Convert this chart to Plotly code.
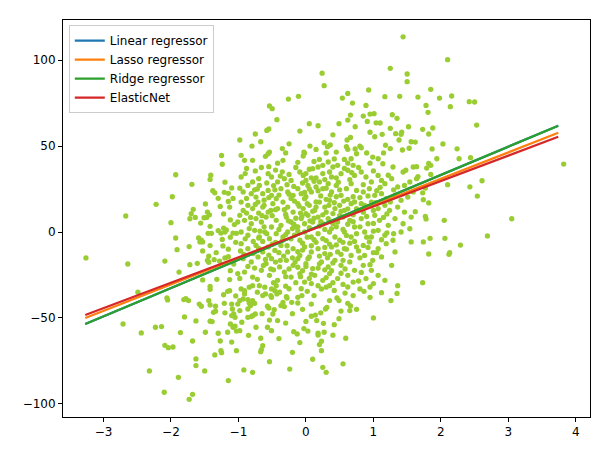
import plotly.graph_objects as go

# ---- scatter data (x, y) ----
pts_upper = [
    (1.44, 113.5), (1.25, 95.2), (1.50, 91.9), (1.50, 87.4), (0.24, 92.4), (0.27, 85.1), (0.93, 82.6),
    (0.62, 80.6), (0.54, 77.9), (0.69, 75.0), (0.89, 73.6), (1.17, 78.7), (1.39, 78.9), (-0.26, 77.3),
    (-0.11, 78.9), (-0.54, 73.3), (-0.50, 71.7), (-0.43, 65.3), (-0.58, 59.1), (-0.55, 59.9), (-0.09, 58.7),
    (0.18, 61.8), (0.49, 63.0), (0.66, 68.0), (0.62, 65.1), (0.73, 61.2), (0.85, 67.4), (0.91, 64.3),
    (0.95, 68.6), (1.01, 68.8), (1.04, 63.5), (1.10, 63.4), (1.28, 68.2), (1.35, 66.1), (1.52, 61.2),
    (1.25, 60.3), (1.33, 57.2), (1.42, 58.1), (1.41, 56.8), (1.13, 56.8), (1.02, 55.4), (1.38, 53.5),
    (1.56, 52.5), (0.66, 55.0), (0.61, 53.5), (-0.98, 53.5), (-0.67, 52.5), (-0.25, 51.3), (0.06, 50.0),
    (0.27, 51.9), (0.32, 49.6), (0.36, 50.6), (0.60, 49.6), (0.62, 48.1), (0.73, 48.3), (0.80, 50.0),
    (0.82, 49.0), (1.43, 47.7), (1.53, 48.7), (-0.54, 46.5), (-0.03, 46.5),
    (2.10, 100.2), (1.85, 83.0), (1.66, 78.5), (1.98, 77.9), (2.16, 79.1), (1.78, 73.6), (2.14, 72.9),
    (1.81, 69.6), (2.42, 75.8), (2.50, 75.6), (2.53, 62.2), (1.73, 59.7), (1.88, 60.5), (1.82, 57.0),
    (1.62, 52.3), (2.03, 51.2), (1.87, 48.3), (2.24, 48.4),
]
pts_right = [
    (3.82, 39.5), (1.94, 42.6), (2.27, 42.6), (2.44, 43.2), (1.64, 38.0), (1.79, 37.2), (1.82, 39.9),
    (1.85, 38.8), (1.66, 32.2), (1.64, 31.0), (1.85, 33.5), (2.10, 27.5), (2.43, 26.3), (2.61, 29.8),
    (2.54, 20.9), (1.77, 25.6), (1.73, 22.8), (1.74, 18.8), (1.82, 16.9), (1.62, 11.8), (1.77, 9.1),
    (1.78, 7.6), (2.05, 6.8), (3.05, 7.7), (2.69, -2.3), (1.74, -5.8), (1.84, -3.7), (2.06, -3.7),
    (2.29, -7.6), (1.82, -12.8), (2.12, -13.0), (2.13, -12.0), (1.73, -29.5),
]
pts_left = [
    (-3.26, -15.1), (-2.67, 9.3), (-2.64, -18.6), (-2.22, 16.1), (-1.93, 33.3), (-1.98, 20.5), (-2.00, 5.4),
    (-1.93, -3.5), (-1.91, -10.3), (-2.09, -16.9), (-1.88, -23.3), (-1.69, 27.7), (-1.49, 16.3), (-1.41, 33.0),
    (-1.42, 30.6), (-1.24, 39.4), (-1.38, 24.0), (-1.35, 22.8), (-1.30, 19.6), (-1.21, 23.1), (-1.15, 22.5),
    (-1.10, 25.6), (-1.15, 17.8), (-1.13, 14.5), (-1.27, 14.9), (-1.22, 10.5), (-1.70, 10.6), (-1.67, 13.2),
    (-1.72, 7.7), (-1.64, 8.5), (-1.56, 5.2), (-1.51, 8.3), (-1.46, 11.6), (-1.43, 10.0), (-1.47, 8.5),
    (-1.06, 4.3), (-1.01, 5.8), (-1.42, 3.3), (-1.45, -0.8), (-1.40, -0.8), (-1.30, 0.8), (-1.26, -0.6),
    (-1.20, 0.0), (-1.18, 1.2), (-1.22, 2.3), (-1.08, -0.6), (-1.03, -0.8), (-1.24, -4.3), (-1.59, -3.5),
    (-1.55, -4.8), (-1.53, -5.8), (-1.57, -5.8), (-1.42, -7.9), (-1.73, -8.5), (-1.53, -11.0), (-1.33, -12.0),
    (-1.23, -8.1), (-1.04, -6.0), (-1.44, -14.1), (-1.46, -16.5), (-1.44, -17.6), (-1.36, -16.1),
    (-1.28, -16.9), (-1.20, -15.1), (-1.72, -19.0), (-1.61, -18.2), (-1.15, -14.4), (-1.07, -18.6),
    (-1.53, -27.9), (-1.32, -27.5), (-1.13, -27.7), (-1.01, -24.2),
]
pts_lower_left = [
    (-2.49, -35.0), (-2.71, -53.5), (-2.44, -58.7), (-2.23, -55.4), (-2.14, -55.0), (-2.06, -38.4),
    (-2.05, -39.5), (-1.81, -39.3), (-1.78, -38.8), (-1.74, -39.9), (-1.86, -58.5), (-2.09, -65.9),
    (-2.04, -67.3), (-1.97, -66.9), (-1.80, -49.4), (-1.63, -51.7), (-1.68, -63.4), (-1.63, -73.8),
    (-1.63, -77.7), (-1.50, -80.8), (-2.32, -80.8), (-1.89, -84.5), (-2.10, -93.2), (-1.68, -94.4),
    (-1.73, -97.3), (-1.15, -86.4), (-1.49, -58.3), (-1.30, -58.9), (-1.27, -63.4), (-1.26, -69.0),
    (-1.25, -70.2), (-1.35, -71.5), (-1.10, -64.0), (-1.16, -58.3), (-1.03, -69.0), (-1.42, -51.9),
    (-1.39, -52.1), (-1.58, -41.9), (-1.55, -43.2), (-1.44, -39.9), (-1.42, -42.4), (-1.34, -43.2),
    (-1.37, -46.7), (-1.34, -46.1), (-1.21, -41.5), (-1.12, -53.5), (-1.08, -55.4), (-1.05, -54.7),
    (-1.03, -57.6), (-1.42, -31.6), (-1.42, -33.3), (-1.16, -34.5), (-1.13, -34.1), (-1.10, -41.9),
    (-1.09, -44.8), (-1.07, -47.7), (-1.10, -48.6), (-1.05, -49.6), (-1.04, -37.2),
]
pts_lower = [
    (1.00, -50.0), (0.59, -61.8), (0.55, -76.7), (0.25, -78.7), (0.30, -81.6), (-0.24, -79.7), (-0.54, -75.4),
    (-0.92, -80.2), (-0.79, -81.6), (-0.66, -68.4), (-0.67, -69.6), (-0.64, -66.1), (-0.67, -61.8),
    (-0.85, -60.1), (-0.09, -64.3), (0.23, -69.0), (0.20, -65.5), (0.23, -63.5), (0.18, -59.9), (0.18, -58.9),
    (0.27, -58.3), (-0.18, -58.0), (-0.13, -59.3), (-0.03, -56.2), (0.03, -57.6), (-0.74, -55.4),
    (-0.57, -55.4), (-0.51, -57.4), (-0.98, -57.4), (-0.42, -51.5), (-0.54, -51.2), (0.16, -51.5),
    (0.26, -53.1), (0.42, -53.9), (0.49, -50.4), (0.08, -49.0), (0.14, -48.3), (0.29, -44.8), (0.31, -43.8),
    (0.62, -41.5), (0.66, -43.0), (0.65, -45.7), (0.35, -39.9), (0.46, -38.4), (0.49, -39.9), (0.08, -41.9),
    (1.12, -35.3), (1.35, -35.7), (1.26, -39.9), (0.62, -32.0), (0.80, -33.1), (0.86, -34.5), (1.36, -31.2),
    (-0.07, -33.0), (0.02, -34.5), (-0.06, -37.0), (-0.12, -38.0), (-0.21, -40.9), (-0.12, -41.3),
    (-0.29, -37.6), (-0.28, -38.4), (-0.34, -40.9), (-0.32, -43.4), (-0.37, -42.8), (-0.47, -45.2),
    (-0.49, -47.7), (-0.57, -43.2), (-0.55, -44.2), (-0.51, -38.0), (-0.52, -37.0), (-0.75, -47.7),
    (-0.81, -49.2), (-0.86, -49.6), (-0.79, -48.7), (-0.86, -44.8), (-0.82, -42.8), (-0.84, -41.3),
    (-0.86, -39.3), (-0.79, -39.9), (-0.76, -41.5), (-0.98, -39.9), (-0.91, -36.0), (-0.93, -38.9),
    (-1.01, -41.9), (-0.98, -45.7), (-0.84, -32.1), (-0.79, -31.2), (-0.91, -34.1), (-0.96, -33.1),
    (-0.69, -31.2), (-0.61, -32.1), (-0.64, -37.0), (-0.60, -36.0), (-0.51, -33.1), (-0.44, -31.2),
    (-0.46, -34.1), (-0.39, -35.0), (-0.43, -36.0), (0.18, -31.2), (0.23, -33.1), (0.30, -32.1), (0.35, -31.2),
]
pts_center = [
    (-0.96, 44.6), (-0.91, 41.7), (-0.79, 41.7), (-0.56, 45.5), (-0.34, 41.7), (-0.04, 44.2), (-0.02, 45.9),
    (0.20, 42.2), (0.33, 40.7), (0.57, 42.2), (0.67, 42.6), (0.75, 45.5),
    (-0.96, 32.0), (-0.79, 29.1), (-0.86, 27.1), (-0.69, 27.1), (-0.56, 33.9), (-0.51, 32.0), (-0.42, 29.1),
    (-0.32, 31.0), (-0.22, 30.0), (-0.09, 34.9), (-0.04, 32.9), (0.00, 30.0), (0.03, 27.1), (0.10, 36.8),
    (0.18, 37.8), (0.25, 38.8), (0.35, 34.9), (0.40, 37.8), (0.47, 38.8), (0.52, 33.9), (0.62, 35.9),
    (0.70, 38.8), (0.72, 32.9),
    (-0.93, 23.3), (-0.81, 22.3), (-0.74, 20.3), (-0.64, 22.3), (-0.56, 24.2), (-0.51, 21.3), (-0.44, 19.4),
    (-0.37, 25.2), (-0.27, 23.3), (-0.19, 21.3), (-0.12, 25.2), (-0.07, 22.3), (-0.02, 19.4), (0.08, 23.3),
    (0.15, 26.2), (0.20, 29.1), (0.25, 25.2), (0.33, 28.1), (0.38, 23.3), (0.45, 27.1), (0.52, 21.3),
    (0.60, 25.2), (0.67, 28.1), (0.75, 24.2),
    (-0.96, 17.4), (-0.86, 15.5), (-0.79, 13.6), (-0.71, 17.4), (-0.64, 14.5), (-0.56, 11.6), (-0.49, 16.5),
    (-0.42, 13.6), (-0.34, 17.4), (-0.27, 14.5), (-0.19, 11.6), (-0.12, 16.5), (-0.04, 13.6), (0.00, 10.7),
    (0.05, 15.5), (0.13, 12.6), (0.20, 17.4), (0.28, 14.5), (0.35, 18.4), (0.43, 13.6), (0.50, 15.5),
    (0.57, 12.6), (0.67, 16.5), (0.75, 13.6),
    (-0.98, 9.7), (-0.91, 6.8), (-0.81, 4.8), (-0.74, 7.8), (-0.66, 5.8), (-0.59, 8.7), (-0.51, 2.9),
    (-0.44, 6.8), (-0.37, 3.9), (-0.29, 8.7), (-0.22, 5.8), (-0.14, 2.9), (-0.07, 7.8), (-0.02, 4.8),
    (0.03, 9.7), (0.10, 5.8), (0.18, 8.7), (0.25, 4.8), (0.33, 7.8), (0.40, 10.7), (0.47, 5.8), (0.55, 8.7),
    (0.65, 6.8), (0.72, 2.9),
    (-0.96, 0.0), (-0.86, -1.9), (-0.76, 1.0), (-0.69, -2.9), (-0.61, 0.0), (-0.54, -3.9), (-0.44, -1.0),
    (-0.34, -2.9), (-0.27, 0.0), (-0.17, -1.9), (-0.09, -4.8), (-0.02, 0.0), (0.08, -2.9), (0.18, -1.0),
    (0.25, -3.9), (0.35, 0.0), (0.43, -2.9), (0.50, -4.8), (0.57, 0.0), (0.67, -2.9), (0.75, -1.0),
]
pts_center_right = [
    (0.99, 43.6), (1.07, 42.6), (1.14, 39.7), (1.29, 37.8), (1.44, 34.9), (1.48, 35.9), (1.59, 37.8),
    (0.82, 34.9), (0.89, 32.0), (0.97, 29.1), (1.07, 32.9), (1.17, 28.1), (1.27, 31.0), (1.36, 26.2),
    (1.46, 27.1), (1.54, 29.1), (0.85, 23.3), (0.94, 25.2), (1.02, 21.3), (1.12, 22.3), (1.19, 19.4),
    (1.32, 21.3), (1.41, 18.4), (1.51, 20.3), (1.59, 23.3), (0.87, 15.5), (0.97, 17.4), (1.07, 13.6),
    (1.17, 15.5), (1.24, 12.6), (1.36, 14.5), (1.46, 11.6), (1.56, 8.7), (0.82, 7.8), (0.92, 4.8),
    (1.02, 9.7), (1.09, 6.8), (1.22, 3.9), (1.32, 7.8), (1.44, 4.8), (1.54, 1.9), (0.87, 0.0), (0.97, -2.9),
    (1.07, 1.0), (1.17, -1.9), (1.29, -4.8), (1.41, 0.0), (0.85, -7.8), (0.94, -5.8), (1.07, -9.7),
    (1.19, -6.8), (1.32, -11.6), (1.56, -5.8), (0.87, -13.6), (0.99, -16.5), (1.12, -14.5), (1.27, -19.4),
    (0.85, -19.4), (0.97, -22.3), (1.07, -25.2), (0.89, -27.1), (1.17, -28.1),
]
pts_center_low = [
    (-0.96, -6.8), (-0.86, -9.7), (-0.74, -7.8), (-0.64, -11.6), (-0.56, -8.7), (-0.46, -10.7), (-0.37, -7.8),
    (-0.27, -11.6), (-0.19, -9.7), (-0.09, -13.6), (-0.02, -8.7), (0.08, -11.6), (0.18, -9.7), (0.28, -12.6),
    (0.38, -8.7), (0.47, -11.6), (0.57, -9.7), (0.67, -13.6), (0.75, -8.7),
    (-0.93, -15.5), (-0.81, -17.4), (-0.71, -14.5), (-0.59, -18.4), (-0.51, -15.5), (-0.39, -20.3),
    (-0.29, -16.5), (-0.19, -19.4), (-0.12, -15.5), (0.00, -18.4), (0.10, -21.3), (0.23, -17.4),
    (0.33, -20.3), (0.43, -16.5), (0.52, -19.4), (0.65, -17.4), (0.72, -22.3),
    (-0.91, -23.3), (-0.79, -26.2), (-0.66, -22.3), (-0.54, -25.2), (-0.42, -28.1), (-0.32, -23.3),
    (-0.22, -26.2), (-0.09, -24.2), (-0.02, -29.1), (0.13, -25.2), (0.25, -28.1), (0.35, -24.2),
    (0.47, -27.1), (0.62, -25.2), (0.70, -29.1),
]
pts_core = [
    (-0.30, 10.2), (-0.20, 2.0), (-0.10, 15.0), (0.00, 20.5), (0.10, 12.0), (0.20, 3.5), (0.30, 19.0),
    (0.40, 5.0), (-0.35, -5.0), (-0.25, 22.0), (-0.15, 8.0), (-0.05, -6.5), (0.05, 25.0), (0.15, 17.5),
    (0.25, 10.0), (0.35, -7.0), (0.45, 20.5), (0.55, 1.5), (-0.45, 13.0), (-0.55, 20.0), (-0.65, 9.5),
    (-0.75, 16.0), (-0.40, -12.0), (-0.20, -15.0), (0.00, -20.0), (0.20, -14.0), (0.40, -18.0),
    (0.60, -10.0), (0.70, 10.0), (0.80, 20.0), (0.65, 30.5), (0.45, 31.5), (0.25, 34.0), (0.05, 36.5),
    (-0.15, 37.5), (-0.35, 35.0), (-0.55, 38.0), (-0.75, 35.5), (-0.12, 0.5), (0.08, -8.0), (0.28, -22.0),
    (-0.08, -26.0), (-0.48, -22.0), (-0.70, -3.5), (-0.88, 11.0), (-0.92, -13.0), (0.90, -3.0),
    (1.05, -12.0), (1.20, 10.5), (1.30, -1.0), (0.95, 40.0), (1.15, 46.0), (0.30, 46.0), (-0.30, 46.0),
    (-0.60, 44.0), (-0.88, 37.0), (0.58, -35.5), (0.05, -27.0), (-0.25, -33.0), (0.95, -38.0),
    (0.75, -45.0), (-0.05, -45.0), (0.40, -60.0), (-0.40, -62.0), (0.10, -74.0), (-0.20, -70.0),
]
pts_core_fill = [
    (-0.90, 34.0), (-0.70, 31.0), (-0.45, 36.0), (-0.25, 33.5), (0.00, 34.0), (0.15, 31.5), (0.38, 32.0),
    (0.57, 37.0), (0.78, 37.5), (1.00, 35.5), (1.22, 33.0),
    (-0.98, 25.5), (-0.72, 25.0), (-0.48, 27.0), (-0.28, 27.5), (-0.05, 28.5), (0.12, 29.5), (0.30, 25.5),
    (0.50, 24.5), (0.70, 20.5), (0.92, 21.0), (1.10, 26.0), (1.30, 24.5), (-1.20, 29.0),
    (-0.88, 19.5), (-0.62, 18.5), (-0.40, 21.5), (-0.17, 18.0), (0.02, 16.5), (0.22, 21.0), (0.42, 17.0),
    (0.62, 19.0), (0.82, 16.5), (1.03, 17.0), (1.25, 17.5), (-1.08, 19.5),
    (-0.93, 12.5), (-0.70, 11.0), (-0.50, 9.5), (-0.32, 13.0), (-0.08, 11.0), (0.12, 8.0), (0.30, 11.5),
    (0.50, 9.5), (0.62, 13.5), (0.85, 11.5), (1.00, 12.5), (1.15, 8.5), (-1.12, 7.0),
    (-0.84, 2.0), (-0.62, 3.0), (-0.40, 1.5), (-0.18, 4.5), (0.05, 2.5), (0.28, 1.5), (0.45, 3.0),
    (0.62, 4.5), (0.80, 3.0), (1.00, 5.0), (1.20, -0.5), (-1.12, -3.0),
    (-0.90, -4.0), (-0.64, -5.5), (-0.45, -6.0), (-0.22, -4.0), (0.02, -3.0), (0.15, -6.0), (0.30, -5.0),
    (0.55, -6.0), (0.72, -5.5), (0.92, -9.0), (1.12, -4.5), (-1.15, -10.0),
    (-0.97, -11.0), (-0.78, -12.5), (-0.55, -13.5), (-0.33, -14.0), (-0.12, -11.5), (0.05, -14.5),
    (0.32, -15.0), (0.52, -13.0), (0.80, -15.0), (1.00, -12.0),
    (-0.86, -20.0), (-0.63, -19.5), (-0.45, -17.5), (-0.25, -21.5), (-0.05, -22.5), (0.18, -21.0),
    (0.38, -22.5), (0.58, -21.5), (0.82, -23.5), (-1.12, -22.5),
    (-0.98, -27.0), (-0.72, -27.5), (-0.48, -29.5), (-0.15, -29.5), (0.08, -30.0), (0.40, -29.5),
    (0.55, -30.5), (0.78, -28.5), (1.00, -30.0),
    (-1.22, -36.5), (-0.72, -35.0), (-0.30, -31.5), (0.12, -37.0), (0.42, -34.0), (0.70, -37.0), (0.95, -32.0),
    (-1.20, -47.0), (-0.65, -47.5), (-0.20, -47.5), (0.22, -47.0), (0.52, -46.0), (-0.95, -52.5),
    (-0.30, -53.0), (0.00, -52.0),
    (-0.80, 50.0), (-0.35, 48.5), (0.15, 48.0), (0.45, 46.5), (0.90, 46.0), (1.25, 48.5), (-1.25, 44.5),
    (-0.75, 57.0), (0.40, 56.5), (0.95, 58.0), (0.05, 63.0), (1.18, 50.5),
]
pts_dense_core = [
    (-0.58, 28.5), (-0.38, 32.5), (-0.18, 26.5), (0.08, 31.5), (0.28, 30.5), (0.48, 29.0), (0.68, 34.5),
    (-0.62, 15.5), (-0.46, 24.5), (-0.22, 19.5), (-0.02, 23.0), (0.18, 24.0), (0.36, 21.5), (0.56, 18.0),
    (0.72, 17.5), (-0.68, 0.5), (-0.52, 12.5), (-0.26, 6.5), (-0.06, 9.0), (0.15, 14.5), (0.34, 15.5),
    (0.52, 12.0), (0.70, 6.0), (-0.78, -5.5), (-0.58, -1.0), (-0.30, -1.5), (-0.12, 3.0), (0.06, 6.5),
    (0.22, 6.0), (0.38, 2.0), (0.60, -2.0), (0.78, -11.0), (-0.70, -9.5), (-0.50, -7.0), (-0.28, -8.0),
    (-0.05, -10.5), (0.12, -4.5), (0.28, -9.0), (0.45, -7.5), (0.65, -6.5), (-0.60, -16.0), (-0.38, -16.5),
    (-0.16, -17.5), (0.03, -15.5), (0.20, -18.5), (0.36, -13.0), (0.55, -16.5), (-0.76, -21.0),
    (-0.52, -21.5), (-0.30, -26.0), (-0.12, -20.5), (0.08, -24.5), (0.30, -26.5), (0.52, -24.0),
    (-0.82, 8.5), (-0.76, 24.5), (-0.66, 37.5), (-0.42, 40.0), (-0.12, 40.5), (0.12, 41.0), (0.42, 42.5),
    (0.62, 40.0), (0.85, 27.5), (0.90, 9.0), (1.00, 0.5), (0.95, -19.0), (1.05, 24.0), (1.12, 30.0),
]

# ---- fitted regression lines (slope, intercept) ----
model_names = ["Linear regressor", "Lasso regressor", "Ridge regressor", "ElasticNet"]
model_slopes = [16.45, 15.36, 16.45, 14.79]
model_intercepts = [0.29, 0.23, 0.29, 0.07]
model_colors = ["#1f77b4", "#ff7f0e", "#2ca02c", "#d62728"]
line_x_range = [-3.27, 3.74]

all_pts = (pts_upper + pts_right + pts_left + pts_lower_left + pts_lower + pts_center +
           pts_center_right + pts_center_low + pts_core + pts_core_fill + pts_dense_core)
xs = [p[0] for p in all_pts]
ys = [p[1] for p in all_pts]

fig = go.Figure()
fig.add_trace(go.Scatter(
    x=xs, y=ys, mode="markers", showlegend=False,
    marker=dict(color="yellowgreen", size=5.3, line=dict(width=0)),
))
for name, m, b, c in zip(model_names, model_slopes, model_intercepts, model_colors):
    fig.add_trace(go.Scatter(
        x=line_x_range, y=[m * xv + b for xv in line_x_range],
        mode="lines", name=name, line=dict(color=c, width=2.2),
    ))

font_family = "DejaVu Sans, sans-serif"
axis_common = dict(
    showline=True, mirror=True, linecolor="black", linewidth=1,
    ticks="outside", ticklen=4, tickcolor="black", showgrid=False, zeroline=False,
    tickfont=dict(family=font_family, size=12, color="black"),
)
fig.update_layout(
    width=596, height=451,
    margin=dict(l=63, r=6, t=20, b=34),
    paper_bgcolor="white", plot_bgcolor="white",
    xaxis=dict(range=[-3.6, 4.21], tickvals=[-3, -2, -1, 0, 1, 2, 3, 4], **axis_common),
    yaxis=dict(range=[-107.6, 123.3], tickvals=[-100, -50, 0, 50, 100], **axis_common),
    legend=dict(
        x=0.011, y=0.987, xanchor="left", yanchor="top",
        bgcolor="rgba(255,255,255,0.8)", bordercolor="#cccccc", borderwidth=1,
        font=dict(family=font_family, size=12, color="black"),
        itemwidth=30, tracegroupgap=0,
    ),
)
fig.write_html("out.html", config={"displayModeBar": False},
               post_script="document.body.style.margin='0';")
